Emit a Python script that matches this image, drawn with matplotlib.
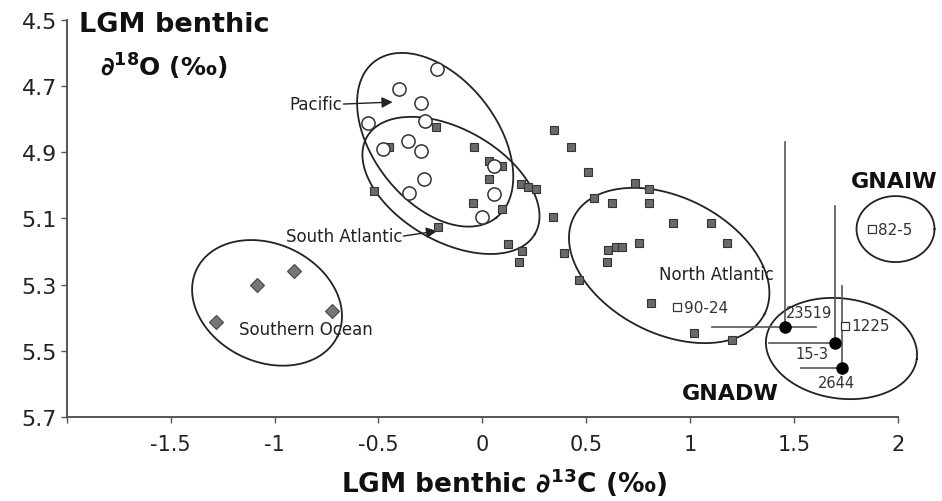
import matplotlib
matplotlib.use("Agg")
import matplotlib.pyplot as plt
import numpy as np

plt.rcParams['font.family'] = ['DejaVu Sans']
plt.rcParams['mathtext.fontset'] = 'dejavusans'

# ---------------- data ----------------
# Pacific (open circles)
pac_x = [-0.218, -0.399, -0.295, -0.551, -0.276, -0.479, -0.356, -0.295,
         0.058, -0.282, -0.351, 0.054, -0.003]
pac_y = [4.649, 4.709, 4.751, 4.811, 4.804, 4.889, 4.867, 4.897,
         4.942, 4.982, 5.023, 5.025, 5.095]

# Atlantic cores (filled grey squares)
atl_x = [-0.223, -0.447, -0.038, 0.034, 0.096, 0.034, -0.519, -0.047, 0.096,
         0.186, 0.218, 0.260, -0.212, 0.122, 0.190, 0.178, 0.346, 0.426,
         0.506, 0.736, 0.800, 0.538, 0.626, 0.800, 0.338, 0.918, 1.100,
         1.179, 0.755, 0.606, 0.643, 0.672, 0.394, 0.602, 0.463, 0.811,
         1.019, 1.200]
atl_y = [4.824, 4.885, 4.885, 4.925, 4.940, 4.981, 5.017, 5.052, 5.071,
         4.996, 5.006, 5.011, 5.127, 5.176, 5.197, 5.232, 4.832, 4.883,
         4.960, 4.993, 5.011, 5.039, 5.054, 5.054, 5.095, 5.115, 5.115,
         5.175, 5.175, 5.194, 5.185, 5.185, 5.204, 5.232, 5.285, 5.356,
         5.446, 5.466]

# Southern Ocean (diamonds)
so_x = [-1.085, -0.904, -0.725, -1.280]
so_y = [5.300, 5.260, 5.379, 5.412]

# Labelled open squares
open_names = ['90-24', '1225', '82-5']
open_x = [0.939, 1.744, 1.873]
open_y = [5.368, 5.424, 5.132]

# GNADW cores (black dots) with ranges
gn_names = ['23519', '15-3', '2644']
gn_x = [1.455, 1.697, 1.732]
gn_y = [5.429, 5.476, 5.553]
gn_x_left = [1.107, 1.380, 1.532]
gn_x_right = [1.604, 1.697, 1.732]
gn_y_top = [4.870, 5.061, 5.303]

x_ticks = [-2, -1.5, -1, -0.5, 0, 0.5, 1, 1.5, 2]
x_ticklabels = ['', '-1.5', '-1', '-0.5', '0', '0.5', '1', '1.5', '2']
y_ticks = [4.5, 4.7, 4.9, 5.1, 5.3, 5.5, 5.7]
y_ticklabels = ['4.5', '4.7', '4.9', '5.1', '5.3', '5.5', '5.7']

# ---------------- figure ----------------
fig = plt.figure(figsize=(9.42, 5.02), dpi=100)
ax = fig.add_axes([66.7 / 942, 1 - 418 / 502, (898 - 66.7) / 942, (418 - 21) / 502])
ax.set_xlim(-2.0, 2.0)
ax.set_ylim(5.7, 4.5)

ax.spines['top'].set_visible(False)
ax.spines['right'].set_visible(False)
for s in ('left', 'bottom'):
    ax.spines[s].set_color('#555555')
    ax.spines[s].set_linewidth(1.4)

ax.set_xticks(x_ticks)
ax.set_xticklabels(x_ticklabels, fontsize=15, color='#222222')
ax.set_yticks(y_ticks)
ax.set_yticklabels(y_ticklabels, fontsize=16, color='#222222')
ax.tick_params(axis='x', direction='out', length=4.5, width=1, color='#555555', pad=8)
ax.tick_params(axis='y', direction='out', length=4.5, width=1, color='#555555', pad=2.5)

# Ellipses (centre in data units, semi-axes in pixels, tilt in degrees, down-right)
fig.canvas.draw()


def draw_ellipse(cx, cy, a, b, ang):
    t = np.linspace(0, 2 * np.pi, 300)
    th = np.deg2rad(ang)
    dx = a * np.cos(th) * np.cos(t) - b * np.sin(th) * np.sin(t)
    dy = -(a * np.sin(th) * np.cos(t) + b * np.cos(th) * np.sin(t))
    c = ax.transData.transform((cx, cy))
    pts = ax.transData.inverted().transform(np.column_stack([c[0] + dx, c[1] + dy]))
    ax.plot(pts[:, 0], pts[:, 1], color='#222222', lw=1.3, clip_on=False, zorder=2)


draw_ellipse(-0.227, 4.862, 99, 62, 52)    # Pacific
draw_ellipse(-0.151, 5.000, 97, 56, 30)    # South Atlantic
draw_ellipse(0.899, 5.242, 107, 68, 27)    # North Atlantic
draw_ellipse(-1.036, 5.355, 78, 59, 25)    # Southern Ocean
draw_ellipse(1.728, 5.493, 76, 50, 8)      # GNADW
draw_ellipse(1.988, 5.132, 39, 33, 0)      # GNAIW

# Range lines for GNADW cores
for i in range(len(gn_x)):
    ax.plot([gn_x_left[i], gn_x_right[i]], [gn_y[i], gn_y[i]], color='#555555', lw=1.2, zorder=3)
    ax.plot([gn_x[i], gn_x[i]], [gn_y_top[i], gn_y[i]], color='#555555', lw=1.2, zorder=3)

# Markers
ax.plot(atl_x, atl_y, 's', ms=5.2, mfc='#6a6a6a', mec='#333333', mew=0.8, ls='none', zorder=4)
ax.plot(pac_x, pac_y, 'o', ms=9.5, mfc='white', mec='#333333', mew=1.1, ls='none', zorder=5)
ax.plot(so_x, so_y, 'D', ms=7, mfc='#777777', mec='#444444', mew=0.8, ls='none', zorder=4)
ax.plot(open_x, open_y, 's', ms=5.5, mfc='white', mec='#333333', mew=0.9, ls='none',
        zorder=5, clip_on=False)
ax.plot(gn_x, gn_y, 'o', ms=8, mfc='black', mec='black', ls='none', zorder=6)

# Point labels
for n, x, y in zip(open_names, open_x, open_y):
    ax.text(x + 0.03, y, n, fontsize=11, color='#333333', ha='left', va='center',
            clip_on=False)

gn_label_x = [1.572, 1.587, 1.702]
gn_label_y = [5.383, 5.507, 5.597]
for n, x, y in zip(gn_names, gn_label_x, gn_label_y):
    ax.text(x, y, n, fontsize=10.5, color='#333333', ha='center', va='center')

# Region labels
ax.text(-0.673, 4.754, 'Pacific', fontsize=12, color='#222222', ha='right', va='center')
ax.annotate('', xy=(-0.432, 4.748), xytext=(-0.668, 4.754),
            arrowprops=dict(arrowstyle='-|>', color='#222222', lw=1.0, mutation_scale=16,
                            shrinkA=0, shrinkB=0))
ax.text(-0.385, 5.153, 'South Atlantic', fontsize=12, color='#222222', ha='right', va='center')
ax.annotate('', xy=(-0.218, 5.138), xytext=(-0.380, 5.153),
            arrowprops=dict(arrowstyle='-|>', color='#222222', lw=1.0, mutation_scale=16,
                            shrinkA=0, shrinkB=0))
ax.text(-0.851, 5.434, 'Southern Ocean', fontsize=12, color='#222222', ha='center', va='center')
ax.text(1.125, 5.268, 'North Atlantic', fontsize=12, color='#222222', ha='center', va='center')
ax.text(1.981, 4.987, 'GNAIW', fontsize=16, fontweight='bold', color='#111111',
        ha='center', va='center', clip_on=False)
ax.text(1.192, 5.628, 'GNADW', fontsize=16, fontweight='bold', color='#111111',
        ha='center', va='center')

# Axis titles
fig.text(79 / 942, 1 - 25 / 502, 'LGM benthic', fontsize=19.5, fontweight='bold',
         color='#111111', ha='left', va='center')
fig.text(100 / 942, 1 - 67 / 502, r'∂$^{\mathbf{18}}$O (‰)', fontsize=18, fontweight='bold',
         color='#111111', ha='left', va='center')
fig.text(504 / 942, 1 - 483 / 502, r'LGM benthic ∂$^{\mathbf{13}}$C (‰)', fontsize=19,
         fontweight='bold', color='#111111', ha='center', va='center')

fig.savefig('out.png', dpi=100)
